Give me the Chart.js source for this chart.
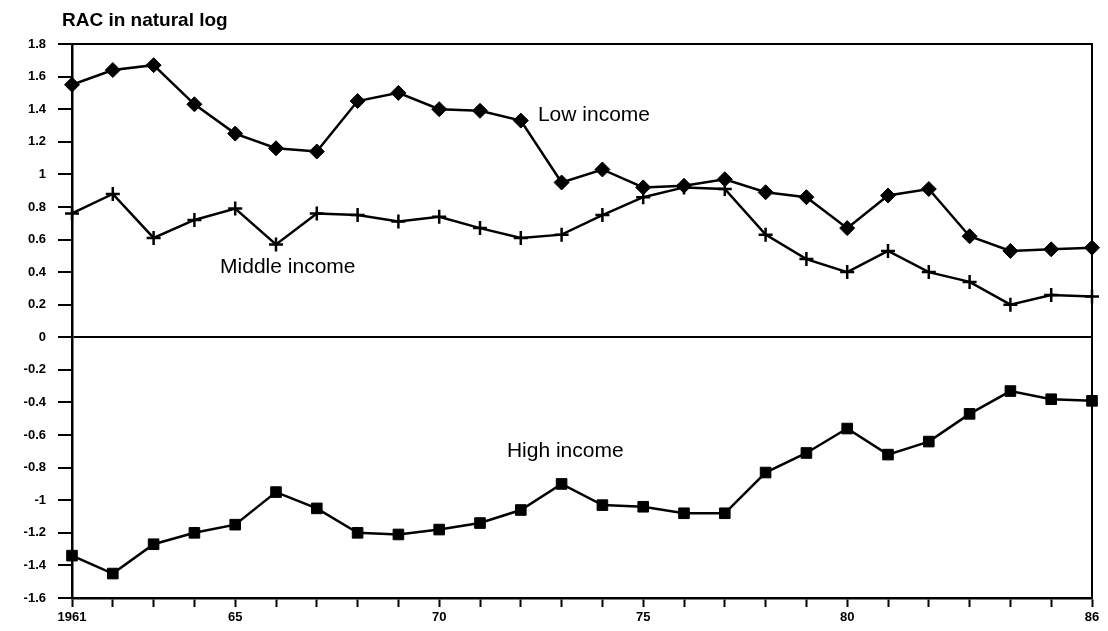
<!DOCTYPE html>
<html>
<head>
<meta charset="utf-8">
<script src="https://cdn.jsdelivr.net/npm/chart.js@4/dist/chart.umd.min.js"></script>
<style>
  html, body { margin: 0; padding: 0; background: #fff; }
  #wrap { width: 1108px; height: 631px; position: relative; }
</style>
</head>
<body>
<div id="wrap"><canvas id="racChart"></canvas></div>
<script>
// años 1961..1986
const years = ['1961','62','63','64','65','66','67','68','69','70','71','72','73',
               '74','75','76','77','78','79','80','81','82','83','84','85','86'];
const yearTickLabels = ['1961','','','','65','','','','','70','','','','','75',
                        '','','','','80','','','','','','86'];

const lowIncome = [1.55, 1.64, 1.67, 1.43, 1.25, 1.16, 1.14, 1.45, 1.50, 1.40, 1.39, 1.33, 0.95,
                   1.03, 0.92, 0.93, 0.97, 0.89, 0.86, 0.67, 0.87, 0.91, 0.62, 0.53, 0.54, 0.55];
const middleIncome = [0.76, 0.88, 0.61, 0.72, 0.79, 0.57, 0.76, 0.75, 0.71, 0.74, 0.67, 0.61, 0.63,
                      0.75, 0.86, 0.92, 0.91, 0.63, 0.48, 0.40, 0.53, 0.40, 0.34, 0.20, 0.26, 0.25];
const highIncome = [-1.34, -1.45, -1.27, -1.20, -1.15, -0.95, -1.05, -1.20, -1.21, -1.18, -1.14, -1.06, -0.90,
                    -1.03, -1.04, -1.08, -1.08, -0.83, -0.71, -0.56, -0.72, -0.64, -0.47, -0.33, -0.38, -0.39];

// etiquetas dentro del gráfico: [texto, índice x, valor y]
const seriesLabels = [
  ['Low income', 11.42, 1.36],
  ['Middle income', 3.63, 0.43],
  ['High income', 10.66, -0.70]
];

const FONT = '"Liberation Sans", Arial, sans-serif';

const framePlugin = {
  id: 'frame',
  afterDraw(chart) {
    const { ctx, chartArea, scales } = chart;
    ctx.save();
    // borde superior y derecho
    ctx.strokeStyle = '#000';
    ctx.lineWidth = 2;
    ctx.beginPath();
    ctx.moveTo(chartArea.left, chartArea.top);
    ctx.lineTo(chartArea.right, chartArea.top);
    ctx.lineTo(chartArea.right, chartArea.bottom);
    ctx.stroke();

    // título del eje
    ctx.fillStyle = '#000';
    ctx.font = 'bold 19px ' + FONT;
    ctx.textBaseline = 'alphabetic';
    ctx.textAlign = 'left';
    ctx.fillText('RAC in natural log', chartArea.left - 10, chartArea.top - 18);

    // nombres de las series
    ctx.font = '21px ' + FONT;
    ctx.textBaseline = 'middle';
    seriesLabels.forEach(([txt, xi, yv]) => {
      ctx.fillText(txt, scales.x.getPixelForValue(xi), scales.y.getPixelForValue(yv));
    });
    ctx.restore();
  }
};

const common = {
  borderColor: '#000',
  backgroundColor: '#000',
  pointBorderColor: '#000',
  pointBackgroundColor: '#000',
  borderWidth: 2.5,
  tension: 0,
  clip: false
};

new Chart(document.getElementById('racChart'), {
  type: 'line',
  data: {
    labels: years,
    datasets: [
      { ...common, label: 'Low income', data: lowIncome, pointStyle: 'rectRot', pointRadius: 7.5, pointBorderWidth: 1 },
      { ...common, label: 'Middle income', data: middleIncome, pointStyle: 'cross', pointRadius: 7, pointBorderWidth: 2.5 },
      { ...common, label: 'High income', data: highIncome, pointStyle: 'rect', pointRadius: 7.5, pointBorderWidth: 1 }
    ]
  },
  options: {
    responsive: true,
    maintainAspectRatio: false,
    animation: false,
    events: [],
    layout: { padding: { left: 0, top: 44, right: 16, bottom: 0 } },
    plugins: {
      legend: { display: false },
      tooltip: { enabled: false }
    },
    scales: {
      x: {
        offset: false,
        border: { display: true, color: '#000', width: 2.5 },
        grid: { display: true, drawOnChartArea: false, color: '#000', tickColor: '#000', tickLength: 9, tickWidth: 2 },
        ticks: {
          autoSkip: false,
          maxRotation: 0,
          color: '#000',
          padding: 3,
          font: { family: FONT, size: 13, weight: 'bold' },
          callback: (v, i) => yearTickLabels[i]
        },
        afterFit: s => { s.height = 33; }
      },
      y: {
        min: -1.6,
        max: 1.8,
        border: { display: true, color: '#000', width: 2.5 },
        grid: {
          drawOnChartArea: true,
          color: c => (c.tick && c.tick.value === 0 ? '#000' : 'rgba(0,0,0,0)'),
          lineWidth: c => (c.tick && c.tick.value === 0 ? 2 : 0),
          tickColor: '#000',
          tickLength: 14,
          tickWidth: 2
        },
        ticks: {
          stepSize: 0.2,
          color: '#000',
          padding: 12,
          font: { family: FONT, size: 13, weight: 'bold' },
          callback: v => String(Number(v.toFixed(1)))
        },
        afterFit: s => { s.width = 72; }
      }
    }
  },
  plugins: [framePlugin]
});
</script>
</body>
</html>
